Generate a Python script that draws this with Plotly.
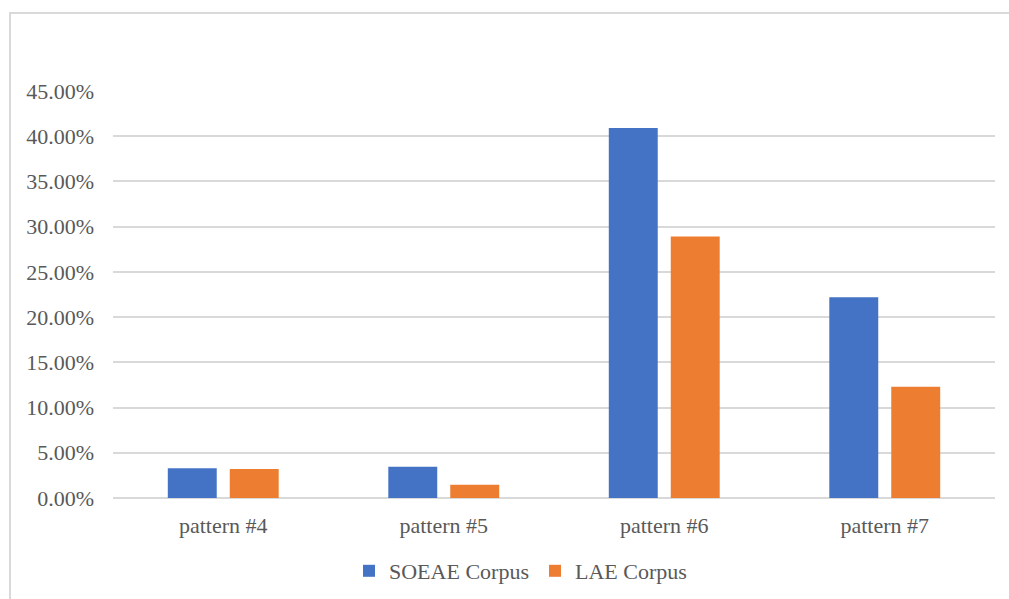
import plotly.graph_objects as go

# Share of each pattern in the two corpora
categories = ["pattern #4", "pattern #5", "pattern #6", "pattern #7"]
soeae_corpus = [0.033, 0.0345, 0.409, 0.222]
lae_corpus = [0.032, 0.0147, 0.289, 0.123]
y_ticks = [0.0, 0.05, 0.10, 0.15, 0.20, 0.25, 0.30, 0.35, 0.40, 0.45]
y_tick_labels = [f"{v * 100:.2f}%" for v in y_ticks]

W, H = 1009, 599
L, R, T, B = 113, 14, 91, 101
plot_w = W - L - R
plot_h = H - T - B

font_family = "Liberation Serif"
font_size = 22
text_color = "#595959"
grid_color = "#d9d9d9"

fig = go.Figure()
fig.add_trace(go.Bar(name="SOEAE Corpus", x=categories, y=soeae_corpus,
                     marker=dict(color="#4472C4", line=dict(width=0))))
fig.add_trace(go.Bar(name="LAE Corpus", x=categories, y=lae_corpus,
                     marker=dict(color="#ED7D31", line=dict(width=0))))


def px_to_paper_x(px):
    return (px - L) / plot_w


def px_to_paper_y(py):
    return (H - B - py) / plot_h


# chart-area border (left and top edges visible, the rest runs off the page)
fig.add_shape(type="rect", xref="paper", yref="paper",
              x0=px_to_paper_x(10), x1=px_to_paper_x(W + 20),
              y0=px_to_paper_y(H + 20), y1=px_to_paper_y(13),
              line=dict(color=grid_color, width=2), fillcolor="rgba(0,0,0,0)",
              layer="below")

fig.update_layout(
    width=W, height=H,
    margin=dict(l=L, r=R, t=T, b=B, pad=0, autoexpand=False),
    paper_bgcolor="white", plot_bgcolor="white",
    barmode="group", bargap=0.438, bargroupgap=0.21,
    font=dict(family=font_family, size=font_size, color=text_color),
    showlegend=True,
    legend=dict(orientation="h", x=px_to_paper_x(349), xanchor="left",
                y=px_to_paper_y(571), yanchor="middle",
                font=dict(family=font_family, size=font_size, color=text_color),
                itemwidth=30, entrywidth=141, traceorder="normal",
                bgcolor="rgba(0,0,0,0)"),
    xaxis=dict(showgrid=False, showline=False, zeroline=False, ticks="",
               ticklabelstandoff=12,
               tickfont=dict(family=font_family, size=font_size, color=text_color)),
    yaxis=dict(range=[0, 0.45], tickvals=y_ticks, ticktext=y_tick_labels,
               showgrid=True, gridcolor=grid_color, gridwidth=1.5,
               zeroline=True, zerolinecolor=grid_color, zerolinewidth=1.5,
               showline=False, ticks="", ticklabelstandoff=18,
               tickfont=dict(family=font_family, size=font_size, color=text_color)),
)

fig.write_html("out.html")
